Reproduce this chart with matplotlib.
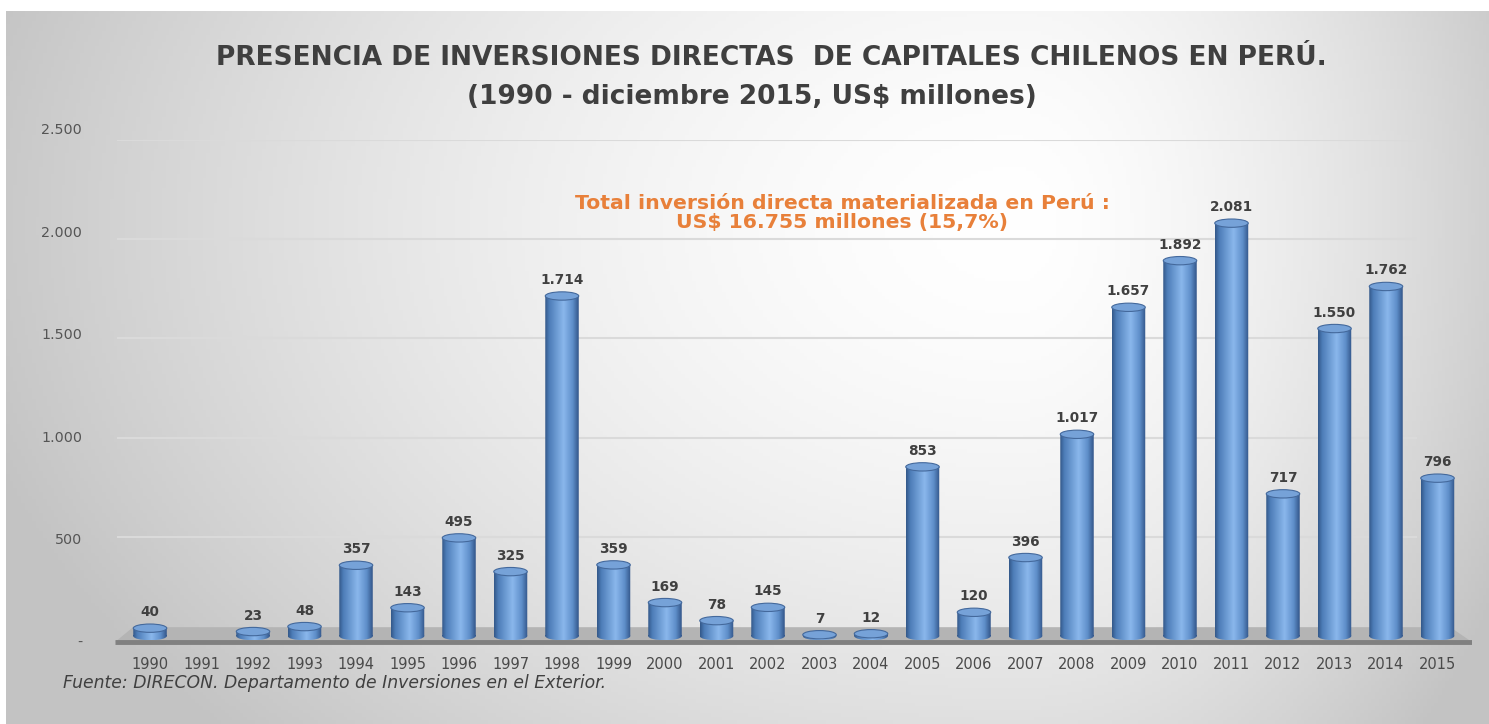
import numpy as np
import matplotlib
matplotlib.use("Agg")
import matplotlib.pyplot as plt
from matplotlib.colors import LinearSegmentedColormap
from matplotlib.patches import Rectangle, Ellipse, Polygon, PathPatch
from matplotlib.path import Path

# --- data -------------------------------------------------------------------
years = [str(y) for y in range(1990, 2016)]
inversion = [40, np.nan, 23, 48, 357, 143, 495, 325, 1714, 359, 169, 78, 145,
             7, 12, 853, 120, 396, 1017, 1657, 1892, 2081, 717, 1550, 1762, 796]
y_ticks = [0, 500, 1000, 1500, 2000, 2500]
y_labels = ["-", "500", "1.000", "1.500", "2.000", "2.500"]

title_1 = "PRESENCIA DE INVERSIONES DIRECTAS  DE CAPITALES CHILENOS EN PERÚ."
title_2 = "(1990 - diciembre 2015, US$ millones)"
note = "Total inversión directa materializada en Perú :\nUS$ 16.755 millones (15,7%)"
source = "Fuente: DIRECON. Departamento de Inversiones en el Exterior."

TXT = "#404040"
ORANGE = "#e8803a"

W, H = 1489, 724
fig = plt.figure(figsize=(W / 100, H / 100), dpi=100, facecolor="white")

# background: soft radial gradient, white near centre, grey at edges
bg = fig.add_axes([0.004, 0.0, 0.996, 0.985], zorder=-10)
gx, gy = np.meshgrid(np.linspace(0, 1, 400), np.linspace(0, 1, 200))
cx, cy = 0.68, 0.3
sx = np.where(gx < cx, 0.66, 0.34)
r = np.sqrt(((gx - cx) / sx) ** 2 + ((gy - cy) / 0.95) ** 2)
bright = 1 - 0.2 * np.clip(r, 0, 1.1) ** 1.6
bg.imshow(np.dstack([bright] * 3), aspect="auto", extent=(0, 1, 1, 0))
bg.set_axis_off()

# main plotting area (bars, floor, gridlines)
XMIN, XMAX = -0.68, 25.67
ax = fig.add_axes([115 / W, 0.1022, (1472 - 115) / W, 0.7044])
ax.set_facecolor("none")
ax.set_xlim(XMIN, XMAX)
ax.set_ylim(-70, 2500)
for s in ax.spines.values():
    s.set_visible(False)

ax.hlines(y_ticks[1:], XMIN + 0.03, 24.6, color="#dadada", lw=1.5, zorder=1)

# floor of the 3D chart
floor = Polygon([(XMIN, -30), (XMAX, -30), (25.25, 45), (XMIN + 0.35, 45)],
                closed=True, facecolor="#b4b4b4", edgecolor="none", zorder=1.5)
ax.add_patch(floor)
ax.plot([XMIN, XMAX], [-32, -32], color="#808080", lw=3.5,
        solid_capstyle="butt", zorder=1.6)

# cylinder bars
side = LinearSegmentedColormap.from_list(
    "cyl", [(0, "#34598a"), (0.12, "#4d7db8"), (0.55, "#8ab7ec"),
            (0.82, "#5f8fca"), (1, "#33568a")])
bw, cap = 0.65, 42
grad = np.linspace(0, 1, 64)[None, :]
for i, v in enumerate(inversion):
    if np.isnan(v):
        continue
    x0 = i - bw / 2
    body = Rectangle((x0, 0), bw, v)
    foot = Ellipse((i, 0), bw, cap)
    path = Path.make_compound_path(
        body.get_patch_transform().transform_path(body.get_path()),
        foot.get_patch_transform().transform_path(foot.get_path()))
    im = ax.imshow(grad, cmap=side, aspect="auto", zorder=3,
                   extent=(x0, x0 + bw, -cap / 2, v), interpolation="bilinear")
    im.set_clip_path(PathPatch(path, transform=ax.transData))
    ax.add_patch(Ellipse((i, v), bw, cap, facecolor="#76a2d8",
                         edgecolor="#44699c", lw=0.8, zorder=4))
    ax.annotate(f"{int(v):,}".replace(",", "."), (i, v), xytext=(0, 11.5),
                textcoords="offset points", ha="center", va="center",
                fontsize=9.8, fontweight="bold", color=TXT,
                family="DejaVu Sans", zorder=5)

ax.set_xticks(range(len(years)))
ax.set_xticklabels(years, fontsize=10.5, color="#4a4a4a", family="DejaVu Sans")
ax.tick_params(axis="x", length=0, pad=5)
ax.set_yticks([])

# y labels sit on the front plane of the 3D box, so they use their own scale
ya = fig.add_axes([115 / W, (H - 643) / H, 0.01, (643 - 130) / H])
ya.set_ylim(0, 2500)
ya.set_axis_off()
for t, lab in zip(y_ticks, y_labels):
    ya.text(-33 / 14.89, t, lab, transform=ya.get_yaxis_transform(),
            ha="right", va="center", fontsize=10.3, color="#555555",
            family="DejaVu Sans")

# texts
fig.text(771 / W, 1 - 58 / H, title_1, ha="center", va="center",
         fontsize=19, fontweight="bold", color="#3f3f3f", family="DejaVu Sans")
fig.text(752 / W, 1 - 97 / H, title_2, ha="center", va="center",
         fontsize=19, fontweight="bold", color="#3f3f3f", family="DejaVu Sans")
ax.text(842 / W, 1 - 213 / H, note, transform=fig.transFigure, ha="center",
        va="center", fontsize=14.7, fontweight="bold", color=ORANGE,
        family="DejaVu Sans", linespacing=0.98, zorder=6)
fig.text(63 / W, 1 - 683 / H, source, ha="left", va="center", fontsize=12.4,
         style="italic", color=TXT, family="DejaVu Sans")

fig.savefig("out.png", dpi=100, facecolor=fig.get_facecolor())
